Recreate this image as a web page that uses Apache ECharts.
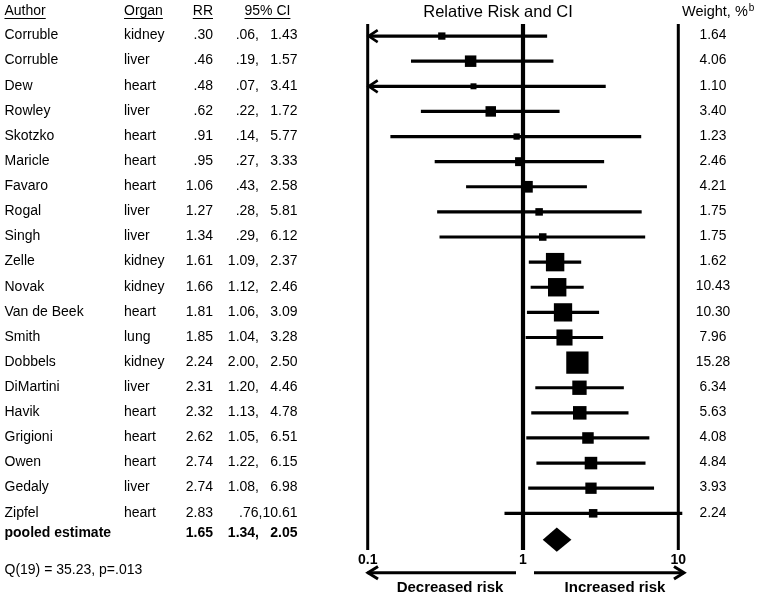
<!DOCTYPE html>
<html><head><meta charset="utf-8">
<script src="https://cdn.jsdelivr.net/npm/echarts@6/dist/echarts.min.js"></script>
<style>html,body{margin:0;padding:0;background:#fff}#c{width:760px;height:597px}</style>
</head><body><div id="c"></div>
<script>
// ---- data ----
const authors = ['Corruble','Corruble','Dew','Rowley','Skotzko','Maricle','Favaro','Rogal','Singh','Zelle','Novak','Van de Beek','Smith','Dobbels','DiMartini','Havik','Grigioni','Owen','Gedaly','Zipfel'];
const organs = ['kidney','liver','heart','liver','heart','heart','heart','liver','liver','kidney','kidney','heart','lung','kidney','liver','heart','heart','heart','liver','heart'];
const rr = [0.30,0.46,0.48,0.62,0.91,0.95,1.06,1.27,1.34,1.61,1.66,1.81,1.85,2.24,2.31,2.32,2.62,2.74,2.74,2.83];
const ciLow = [0.06,0.19,0.07,0.22,0.14,0.27,0.43,0.28,0.29,1.09,1.12,1.06,1.04,2.00,1.20,1.13,1.05,1.22,1.08,0.76];
const ciHigh = [1.43,1.57,3.41,1.72,5.77,3.33,2.58,5.81,6.12,2.37,2.46,3.09,3.28,2.50,4.46,4.78,6.51,6.15,6.98,10.61];
const weights = [1.64,4.06,1.10,3.40,1.23,2.46,4.21,1.75,1.75,1.62,10.43,10.30,7.96,15.28,6.34,5.63,4.08,4.84,3.93,2.24];
// weight represented by each drawn box (Zelle's box is drawn as large as Novak's)
const boxWeights = [1.64,4.06,1.10,3.40,1.23,2.46,4.21,1.75,1.75,10.43,10.43,10.30,7.96,15.28,6.34,5.63,4.08,4.84,3.93,2.24];
const pooledLabel = 'pooled estimate';
const pooledRR = 1.65, pooledLow = 1.34, pooledHigh = 2.05;
const xTicks = [0.1, 1, 10];
const heterogeneity = 'Q(19) = 35.23, p=.013';
const headers = ['Author','Organ','RR','95% CI'];

// ---- layout / style ----
const FONT = '"Liberation Sans", Arial, Helvetica, sans-serif';
const Y_MIN = -0.48, Y_MAX = 20.46;
const nRows = authors.length;
const pooledRow = nRows;
function fmt(v){ let s = v.toFixed(2); if (v < 1) s = s.replace(/^0/, ''); return s; }

const chart = echarts.init(document.getElementById('c'), null, {renderer:'canvas'});

const cvs = document.createElement('canvas').getContext('2d');
function tw(t, size){ cvs.font = (size||14) + 'px ' + FONT; return cvs.measureText(t).width; }

const rowData = authors.map((a,i)=>[1, i]);
const ciData = authors.map((a,i)=>[ciLow[i], ciHigh[i], rr[i], i, boxWeights[i]]);

const headerX = [4.5, 124, 213, 244.5];
const headerAlign = ['left','left','right','left'];
const graphics = [];
headers.forEach((h,k)=>{
  graphics.push({type:'text', x:headerX[k], y:11.5, style:{text:h, fill:'#000', fontSize:14, fontFamily:FONT, align:headerAlign[k], verticalAlign:'middle'}});
  const w = tw(h, 14);
  const x0 = headerAlign[k]==='left' ? headerX[k] : headerX[k]-w;
  graphics.push({type:'line', shape:{x1:x0, y1:18.5, x2:x0+w, y2:18.5}, style:{stroke:'#000', lineWidth:1}});
});
graphics.push({type:'text', x:498, y:12, style:{text:'Relative Risk and CI', fill:'#000', fontSize:16.5, fontFamily:FONT, align:'center', verticalAlign:'middle'}});
graphics.push({type:'text', x:682, y:12, style:{text:'Weight, %', fill:'#000', fontSize:14.5, fontFamily:FONT, align:'left', verticalAlign:'middle'}});
graphics.push({type:'text', x:682 + tw('Weight, %', 14.5) + 1, y:8.5, style:{text:'b', fill:'#000', fontSize:10, fontFamily:FONT, align:'left', verticalAlign:'middle'}});
graphics.push({type:'text', x:4.5, y:570, style:{text:heterogeneity, fill:'#000', fontSize:14, fontFamily:FONT, align:'left', verticalAlign:'middle'}});
// direction arrows
graphics.push({type:'polyline', shape:{points:[[516,572.7],[367.5,572.7]]}, style:{stroke:'#000', lineWidth:3}});
graphics.push({type:'polyline', shape:{points:[[378,566.5],[368,572.7],[378,579]]}, style:{stroke:'#000', lineWidth:3, fill:null}});
graphics.push({type:'polyline', shape:{points:[[534,572.7],[684,572.7]]}, style:{stroke:'#000', lineWidth:3}});
graphics.push({type:'polyline', shape:{points:[[674,566.5],[684,572.7],[674,579]]}, style:{stroke:'#000', lineWidth:3, fill:null}});
graphics.push({type:'text', x:450, y:588, style:{text:'Decreased risk', fill:'#000', fontSize:15, fontWeight:'bold', fontFamily:FONT, align:'center', verticalAlign:'middle'}});
graphics.push({type:'text', x:615, y:588, style:{text:'Increased risk', fill:'#000', fontSize:15, fontWeight:'bold', fontFamily:FONT, align:'center', verticalAlign:'middle'}});

const option = {
  animation:false,
  backgroundColor:'#fff',
  grid:{left:367.7, top:24, width:310.6, height:526, containLabel:false},
  xAxis:{type:'log', logBase:10, min:0.1, max:10,
    axisLine:{show:false}, axisTick:{show:false}, splitLine:{show:false},
    axisLabel:{show:true, margin:3, color:'#000', fontSize:14, fontWeight:'bold', fontFamily:FONT,
      showMinLabel:true, showMaxLabel:true,
      formatter:function(v){ return String(Math.round(v*10)/10); }}},
  yAxis:{type:'value', inverse:true, min:Y_MIN, max:Y_MAX, show:false},
  graphic:graphics,
  series:[
    { // reference lines at 0.1, 1, 10
      type:'custom', silent:true, z:1,
      data:xTicks.map(v=>[v]),
      encode:{x:0},
      renderItem:function(params, api){
        const v = api.value(0);
        const p1 = api.coord([v, Y_MIN]), p2 = api.coord([v, Y_MAX]);
        return {type:'line', shape:{x1:p1[0], y1:p1[1], x2:p2[0], y2:p2[1]}, style:{stroke:'#000', lineWidth: v===1 ? 4.2 : 3}};
      }
    },
    { // CI lines + boxes
      type:'custom', silent:true, z:3,
      data:ciData,
      encode:{x:[0,1,2], y:3},
      renderItem:function(params, api){
        const lo = api.value(0), hi = api.value(1), r = api.value(2), i = api.value(3), w = api.value(4);
        const clipped = lo < xTicks[0];
        const pL = api.coord([clipped ? xTicks[0] : lo, i]);
        const pH = api.coord([hi, i]);
        const pR = api.coord([r, i]);
        const s = 5.7 * Math.sqrt(w);
        const children = [
          {type:'line', shape:{x1:pL[0], y1:pL[1], x2:pH[0], y2:pH[1]}, style:{stroke:'#000', lineWidth:3.2}},
          {type:'rect', shape:{x:pR[0]-s/2, y:pR[1]-s/2, width:s, height:s}, style:{fill:'#000'}}
        ];
        if (clipped) {
          children.push({type:'polyline', shape:{points:[[pL[0]+10, pL[1]-6],[pL[0]+1, pL[1]],[pL[0]+10, pL[1]+6]]}, style:{stroke:'#000', lineWidth:2.6, fill:null}});
        }
        return {type:'group', children:children};
      }
    },
    { // pooled diamond
      type:'custom', silent:true, z:3,
      data:[[pooledLow, pooledHigh, pooledRR, pooledRow]],
      encode:{x:[0,1,2], y:3},
      renderItem:function(params, api){
        const lo = api.coord([api.value(0), api.value(3)]);
        const hi = api.coord([api.value(1), api.value(3)]);
        const c = api.coord([api.value(2), api.value(3)]);
        const y = c[1] + 1.2, h = 12.2;
        return {type:'polygon', shape:{points:[[lo[0], y],[c[0], y-h],[hi[0], y],[c[0], y+h]]}, style:{fill:'#000'}};
      }
    },
    { // table text + weights
      type:'custom', silent:true, z:4,
      data:rowData.concat([[1, pooledRow]]),
      encode:{x:0, y:1},
      renderItem:function(params, api){
        const i = api.value(1);
        const y0 = api.coord([1, i])[1];
        const pooled = i === pooledRow;
        const y = pooled ? y0 - 5.2 : y0 - 0.6;
        const fw = pooled ? 'bold' : 'normal';
        const mk = (x, t, al) => ({type:'text', style:{text:t, x:x, y:y, fill:'#000', fontSize:14, fontWeight:fw, fontFamily:FONT, align:al, verticalAlign:'middle'}});
        const ch = [];
        const lo = pooled ? pooledLow : ciLow[i], hi = pooled ? pooledHigh : ciHigh[i];
        if (pooled) {
          ch.push(mk(4.5, pooledLabel, 'left'));
          ch.push(mk(213, fmt(pooledRR), 'right'));
        } else {
          ch.push(mk(4.5, authors[i], 'left'));
          ch.push(mk(124, organs[i], 'left'));
          ch.push(mk(213, fmt(rr[i]), 'right'));
          const wt = mk(713, weights[i].toFixed(2), 'center');
          wt.style.fontSize = 13.8;
          ch.push(wt);
        }
        if (hi >= 10) {
          ch.push(mk(297.5, fmt(lo) + ',' + fmt(hi), 'right'));
        } else {
          ch.push(mk(259, fmt(lo) + ',', 'right'));
          ch.push(mk(297.5, fmt(hi), 'right'));
        }
        return {type:'group', children:ch};
      }
    }
  ]
};
chart.setOption(option);
</script>
</body></html>
